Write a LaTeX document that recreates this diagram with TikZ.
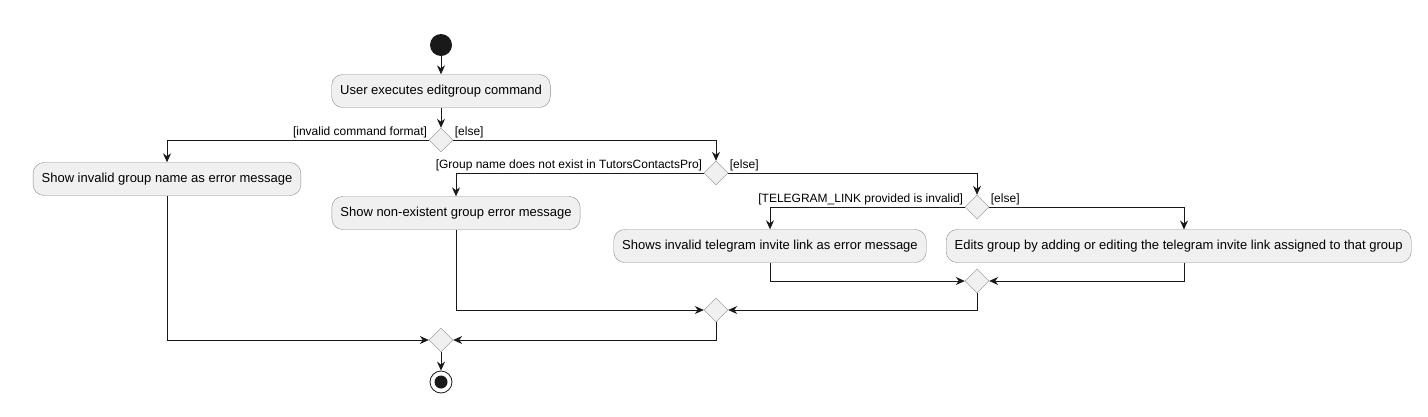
\documentclass[tikz,border=0pt]{standalone}
\usepackage{fontspec}
\setmainfont{Liberation Sans}
\usetikzlibrary{shapes.geometric,arrows.meta}
\tikzset{
  act/.style={rectangle, rounded corners=11pt, draw=black!45, fill=black!6, minimum height=33pt, inner xsep=8.5pt, font=\fontsize{13}{15}\selectfont},
  dec/.style={diamond, draw=black!45, fill=black!6, minimum width=24pt, minimum height=24pt, inner sep=0pt},
  flow/.style={-{Stealth[length=9pt,width=8pt,inset=3pt]}, line width=0.8pt, draw=black!90},
  guard/.style={font=\fontsize{12}{14}\selectfont, inner sep=1.5pt}
}
\begin{document}
\begin{tikzpicture}[x=1pt, y=-1pt]
\useasboundingbox (0,0) rectangle (1428,416);

\node [circle, fill=black!90, minimum size=22pt, inner sep=0pt] (v1) at (441,45) {};
\node [act] (v2) at (441,91) {User executes editgroup command};
\node [dec] (v3) at (441,140) {};
\node [act] (v4) at (167,179) {Show invalid group name as error message};
\node [dec] (v5) at (716,173) {};
\node [act] (v6) at (456,213) {Show non-existent group error message};
\node [dec] (v7) at (977,207) {};
\node [act] (v8) at (770,246) {Shows invalid telegram invite link as error message};
\node [act, anchor=west] (v9) at (946,246) {Edits group by adding or editing the telegram invite link assigned to that group};
\coordinate (v9top) at (1184,229.5);
\coordinate (v9bot) at (1184,262.5);
\node [dec] (v10) at (977,281) {};
\node [dec] (v11) at (716,310) {};
\node [dec] (v12) at (441,340) {};
\node [circle, draw=black!90, line width=0.8pt, minimum size=22pt, inner sep=0pt] (v13) at (441,382) {};
\node [circle, fill=black!90, minimum size=13pt, inner sep=0pt] (v14) at (v13) {};

\node [guard, anchor=south east] (g1) at (v3.west) {[invalid command format]};
\node [guard, anchor=south west] (g2) at (v3.east) {[else]};
\node [guard, anchor=south east] (g3) at (v5.west) {[Group name does not exist in TutorsContactsPro]};
\node [guard, anchor=south west] (g4) at (v5.east) {[else]};
\node [guard, anchor=south east] (g5) at (v7.west) {[TELEGRAM\_LINK provided is invalid]};
\node [guard, anchor=south west] (g6) at (v7.east) {[else]};

\draw [flow] (v1) -- (v2);
\draw [flow] (v2) -- (v3);
\draw [flow] (v3.west) -| (v4);
\draw [flow] (v3.east) -| (v5);
\draw [flow] (v5.west) -| (v6);
\draw [flow] (v5.east) -| (v7);
\draw [flow] (v7.west) -| (v8);
\draw [flow] (v7.east) -| (v9top);

\draw [flow] (v8) |- (v10.west);
\draw [flow] (v9bot) |- (v10.east);
\draw [flow] (v6) |- (v11.west);
\draw [flow] (v10) |- (v11.east);
\draw [flow] (v4) |- (v12.west);
\draw [flow] (v11) |- (v12.east);
\draw [flow] (v12) -- (v13);
\end{tikzpicture}
\end{document}
